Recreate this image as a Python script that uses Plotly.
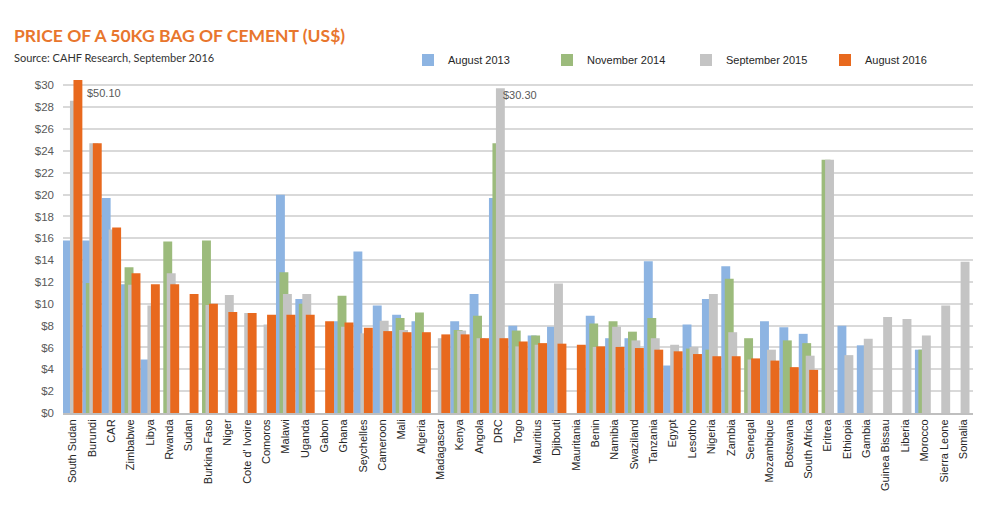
import plotly.graph_objects as go

countries = ["South Sudan", "Burundi", "CAR", "Zimbabwe", "Libya", "Rwanda", "Sudan",
             "Burkina Faso", "Niger", "Cote d' Ivoire", "Comoros", "Malawi", "Uganda",
             "Gabon", "Ghana", "Seychelles", "Cameroon", "Mali", "Algeria", "Madagascar",
             "Kenya", "Angola", "DRC", "Togo", "Mauritius", "Djibouti", "Mauritania",
             "Benin", "Namibia", "Swaziland", "Tanzania", "Egypt", "Lesotho", "Nigeria",
             "Zambia", "Senegal", "Mozambique", "Botswana", "South Africa", "Eritrea",
             "Ethiopia", "Gambia", "Guinea Bissau", "Liberia", "Morocco", "Sierra Leone",
             "Somalia"]

aug_2013 = [15.8, 15.8, 19.7, 11.8, 4.9, None, None,
            None, None, None, None, 20.0, 10.45,
            None, 8.4, 14.8, 9.85, 9.0, 8.4, None,
            8.4, 10.9, 19.7, 8.0, 7.1, 7.9, None,
            8.9, 6.85, 6.85, 13.9, 4.35, 8.1, 10.45,
            13.45, None, 8.4, 7.85, 7.25, None,
            8.0, 6.2, None, None, 5.8, None,
            None]

nov_2014 = [None, 11.9, None, 13.35, None, 15.7, None,
            15.8, None, None, None, 12.9, 10.0,
            None, 10.75, None, None, 8.7, 9.2, None,
            7.6, 8.9, 24.7, 7.55, 7.1, None, None,
            8.2, 8.4, 7.45, 8.7, None, 5.9, 5.8,
            12.3, 6.85, None, 6.65, 6.4, 23.2,
            None, None, None, None, 5.8, None,
            None]

sep_2015 = [28.6, 24.7, 16.8, 11.75, 9.85, 12.8, None,
            9.9, 10.8, 9.15, 8.1, 10.9, 10.9,
            None, 7.9, 7.3, 8.45, 7.6, None, 6.85,
            7.55, 6.85, 29.75, 6.1, 6.25, 11.85, None,
            6.05, 7.9, 6.65, 6.85, 6.25, 6.05, 10.9,
            7.4, 4.9, 5.8, None, 5.25, 23.2,
            5.3, 6.8, 8.8, 8.6, 7.1, 9.85,
            13.85]

aug_2016 = [50.10, 24.7, 17.0, 12.8, 11.8, 11.8, 10.9,
            10.0, 9.25, 9.15, 9.0, 9.0, 9.0,
            8.4, 8.3, 7.8, 7.5, 7.4, 7.4, 7.2,
            7.2, 6.85, 6.85, 6.55, 6.4, 6.35, 6.25,
            6.1, 6.05, 5.95, 5.8, 5.65, 5.4, 5.2,
            5.2, 5.0, 4.8, 4.2, 3.95, None,
            None, None, None, None, None, None,
            None]

series_names = ["August 2013", "November 2014", "September 2015", "August 2016"]
series_values = [aug_2013, nov_2014, sep_2015, aug_2016]
series_colors = ["#8DB4E2", "#9CBB7C", "#C4C4C4", "#E8691E"]

y_ticks = list(range(0, 31, 2))
y_tick_labels = [f"${v}" for v in y_ticks]

FONT = "Liberation Sans, Arial, sans-serif"

fig = go.Figure()
bar_w = 0.46
step = 0.18
for i, (name, vals, col) in enumerate(zip(series_names, series_values, series_colors)):
    fig.add_trace(go.Bar(
        x=countries, y=vals, name=name,
        marker=dict(color=col, line=dict(width=0)),
        width=bar_w, offset=-0.5 + i * step,
    ))

# page body has an 8px margin, so the figure is 8px smaller and shifted
fig.update_layout(
    width=979, height=500,
    barmode="overlay",
    paper_bgcolor="white", plot_bgcolor="white",
    margin=dict(l=55, r=14, t=72, b=95),
    font=dict(family=FONT, size=11, color="#404040"),
    showlegend=True,
    legend=dict(
        orientation="h", x=(408 - 63) / 910, xanchor="left", y=1 + 20 / 333, yanchor="middle",
        font=dict(family=FONT, size=11, color="#262626"),
        entrywidth=94, entrywidthmode="pixels",
        traceorder="normal", bgcolor="rgba(0,0,0,0)",
    ),
    xaxis=dict(
        type="category", range=[-0.5, len(countries) - 0.5],
        tickangle=-90, tickfont=dict(family=FONT, size=11, color="#262626"),
        showgrid=False, showline=True, linecolor="#BFBFBF", linewidth=2,
        ticks="", automargin=False,
    ),
    yaxis=dict(
        range=[0, 30.5], tickvals=y_ticks, ticktext=y_tick_labels,
        tickfont=dict(family=FONT, size=11.5, color="#595959"),
        showgrid=True, gridcolor="#D9D9D9", gridwidth=1.5,
        zeroline=False, showline=False, ticks="", automargin=False,
        ticklabelstandoff=8,
    ),
)

fig.add_annotation(text="<b>PRICE OF A 50KG BAG OF CEMENT (US$)</b>",
                   xref="paper", yref="paper", x=-51/910, y=1 + 45/333,
                   xanchor="left", yanchor="middle", showarrow=False,
                   font=dict(family="Lato, sans-serif", size=17.5, color="#E8762D"))
fig.add_annotation(text="Source: CAHF Research, September 2016",
                   xref="paper", yref="paper", x=-51/910, y=1 + 22/333,
                   xanchor="left", yanchor="middle", showarrow=False,
                   font=dict(family="Lato, sans-serif", size=11, color="#333333"))
fig.add_annotation(text="$50.10", x="South Sudan", y=29.3, xref="x", yref="y",
                   xanchor="left", yanchor="middle", xshift=12, showarrow=False,
                   font=dict(family=FONT, size=11, color="#595959"))
fig.add_annotation(text="$30.30", x="DRC", y=29.1, xref="x", yref="y",
                   xanchor="left", yanchor="middle", xshift=2, showarrow=False,
                   font=dict(family=FONT, size=11, color="#595959"))

fig.write_html("out.html")
